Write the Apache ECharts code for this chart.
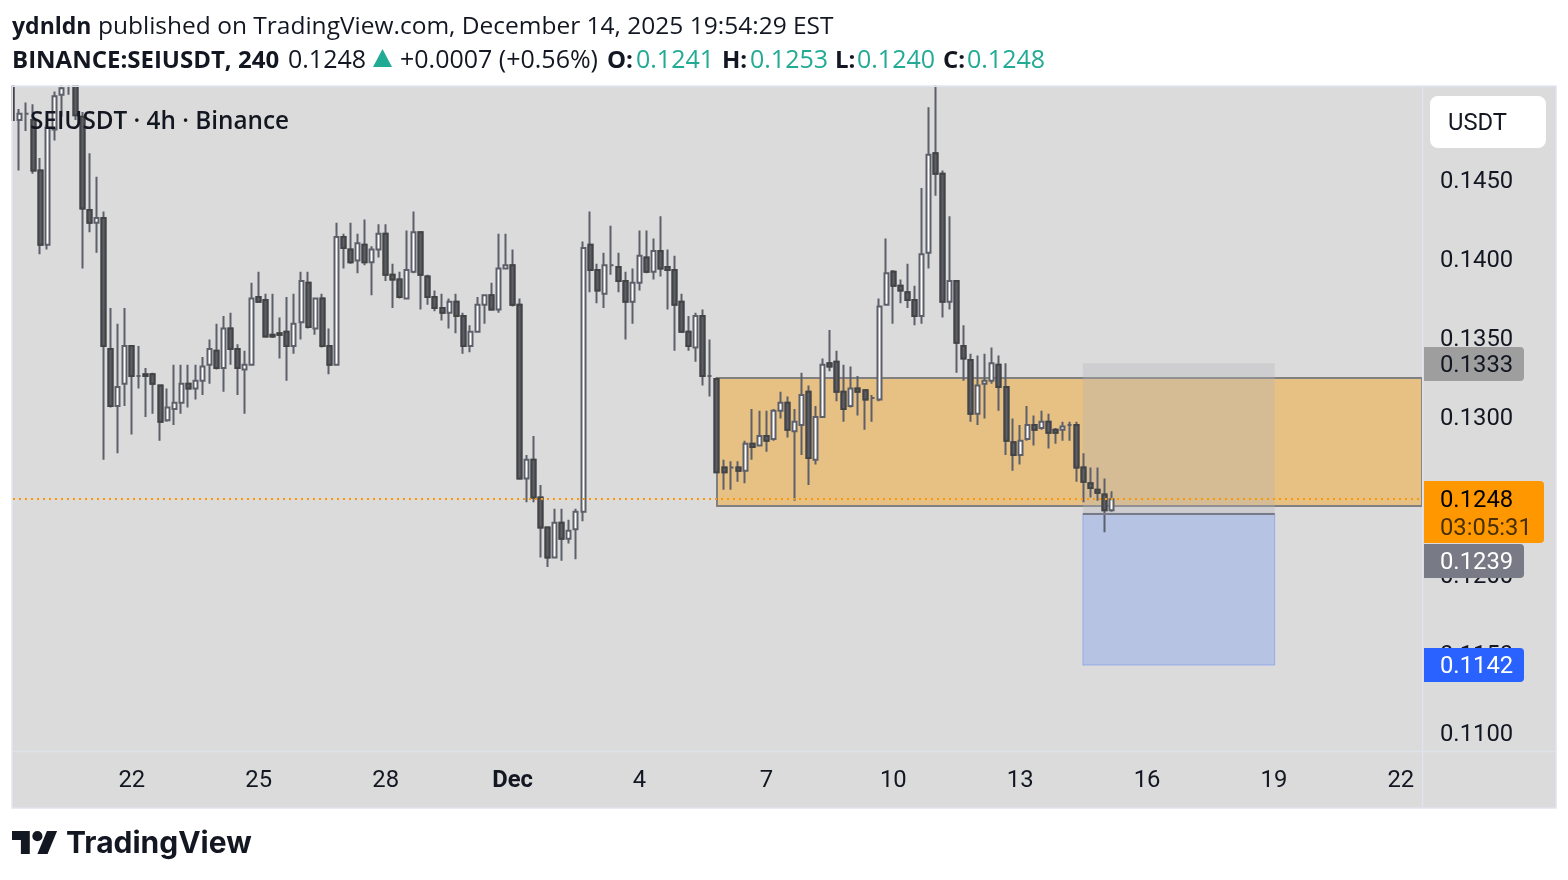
<!DOCTYPE html>
<html>
<head>
<meta charset="utf-8">
<title>SEIUSDT 4h</title>
<script src="https://cdn.jsdelivr.net/npm/echarts@6/dist/echarts.min.js"></script>
<style>
  html, body { margin: 0; padding: 0; background: #fff; }
  #chart { width: 1568px; height: 880px; }
</style>
</head>
<body>
<div id="chart"></div>
<script>
/* ------------------------------- Candle data ------------------------------ */
const opens = [
  0.1530,0.1488,0.1492,0.1488,0.1456,0.1409,0.1482,0.1504,0.1512,0.1520,0.1490,0.1431,0.1423,0.1426,0.1343,0.1307,0.1321,0.1345,0.1326,0.1327,
  0.1327,0.1320,0.1298,0.1305,0.1309,0.1321,0.1318,0.1323,0.1333,0.1342,0.1331,0.1356,0.1343,0.1330,0.1333,0.1376,0.1374,0.1352,0.1353,0.1354,
  0.1345,0.1360,0.1385,0.1356,0.1375,0.1345,0.1333,0.1414,0.1406,0.1399,0.1409,0.1398,0.1406,0.1416,0.1390,0.1387,0.1375,0.1392,0.1417,0.1389,
  0.1376,0.1369,0.1366,0.1373,0.1364,0.1345,0.1354,0.1371,0.1377,0.1368,0.1394,0.1396,0.1371,0.1261,0.1273,0.1249,0.1230,0.1211,0.1233,0.1223,
  0.1229,0.1240,0.1409,0.1393,0.1378,0.1396,0.1395,0.1386,0.1373,0.1385,0.1401,0.1392,0.1405,0.1395,0.1393,0.1373,0.1354,0.1344,0.1364,0.1326,
  0.1324,0.1268,0.1268,0.1268,0.1266,0.1283,0.1282,0.1288,0.1286,0.1304,0.1309,0.1291,0.1295,0.1316,0.1273,0.1300,0.1334,0.1335,0.1316,0.1307,
  0.1318,0.1317,0.1312,0.1311,0.1371,0.1392,0.1383,0.1379,0.1374,0.1364,0.1404,0.1467,0.1454,0.1373,0.1386,0.1345,0.1336,0.1302,0.1321,0.1323,
  0.1333,0.1319,0.1284,0.1276,0.1286,0.1295,0.1293,0.1297,0.1292,0.1292,0.1295,0.1295,0.1268,0.1258,0.1254,0.1251,0.1241
];
const closes = [
  0.1488,0.1492,0.1492,0.1456,0.1409,0.1483,0.1503,0.1508,0.1515,0.1491,0.1432,0.1423,0.1426,0.1345,0.1307,0.1319,0.1345,0.1326,0.1326,0.1326,
  0.1321,0.1297,0.1306,0.1309,0.1321,0.1318,0.1323,0.1332,0.1343,0.1331,0.1356,0.1343,0.1331,0.1333,0.1375,0.1373,0.1351,0.1351,0.1352,0.1345,
  0.1359,0.1386,0.1357,0.1375,0.1345,0.1333,0.1414,0.1407,0.1398,0.1410,0.1398,0.1406,0.1416,0.1390,0.1387,0.1376,0.1393,0.1417,0.1390,0.1376,
  0.1369,0.1366,0.1373,0.1364,0.1345,0.1354,0.1371,0.1377,0.1368,0.1394,0.1396,0.1371,0.1261,0.1273,0.1249,0.1230,0.1211,0.1233,0.1223,0.1228,
  0.1240,0.1407,0.1393,0.1380,0.1396,0.1396,0.1386,0.1373,0.1385,0.1402,0.1392,0.1405,0.1394,0.1393,0.1371,0.1354,0.1345,0.1364,0.1326,0.1326,
  0.1265,0.1265,0.1268,0.1266,0.1283,0.1281,0.1288,0.1285,0.1304,0.1309,0.1292,0.1297,0.1314,0.1274,0.1300,0.1333,0.1332,0.1316,0.1305,0.1318,
  0.1316,0.1311,0.1312,0.1370,0.1391,0.1383,0.1380,0.1374,0.1364,0.1403,0.1466,0.1454,0.1373,0.1386,0.1347,0.1337,0.1302,0.1320,0.1323,0.1334,
  0.1319,0.1285,0.1276,0.1285,0.1295,0.1292,0.1297,0.1290,0.1290,0.1294,0.1295,0.1268,0.1259,0.1255,0.1252,0.1241,0.1248
];
const highs = [
  0.1535,0.1495,0.1499,0.1498,0.1464,0.1485,0.1506,0.1515,0.1525,0.1530,0.1493,0.1467,0.1452,0.1430,0.1369,0.1359,0.1369,0.1345,0.1345,0.1331,
  0.1328,0.1320,0.1318,0.1333,0.1333,0.1333,0.1333,0.1338,0.1349,0.1359,0.1364,0.1366,0.1346,0.1342,0.1385,0.1392,0.1378,0.1378,0.1363,0.1376,
  0.1378,0.1392,0.1392,0.1375,0.1378,0.1356,0.1423,0.1416,0.1423,0.1416,0.1425,0.1408,0.1422,0.1422,0.1397,0.1392,0.1418,0.1430,0.1417,0.1390,
  0.1380,0.1378,0.1375,0.1378,0.1366,0.1358,0.1376,0.1377,0.1385,0.1416,0.1416,0.1406,0.1375,0.1276,0.1288,0.1257,0.1230,0.1242,0.1242,0.1235,
  0.1242,0.1411,0.1430,0.1397,0.1404,0.1421,0.1404,0.1392,0.1394,0.1418,0.1418,0.1413,0.1427,0.1406,0.1402,0.1378,0.1364,0.1366,0.1368,0.1349,
  0.1325,0.1273,0.1272,0.1272,0.1285,0.1305,0.1304,0.1304,0.1305,0.1316,0.1313,0.1305,0.1328,0.1320,0.1307,0.1337,0.1355,0.1342,0.1333,0.1332,
  0.1326,0.1317,0.1314,0.1375,0.1413,0.1393,0.1387,0.1397,0.1383,0.1445,0.1496,0.1510,0.1456,0.1427,0.1386,0.1358,0.1340,0.1339,0.1340,0.1344,
  0.1339,0.1334,0.1299,0.1295,0.1307,0.1301,0.1304,0.1302,0.1293,0.1297,0.1297,0.1297,0.1277,0.1268,0.1268,0.1261,0.1253
];
const lows = [
  0.1488,0.1456,0.1481,0.1454,0.1403,0.1406,0.1475,0.1490,0.1504,0.1488,0.1394,0.1417,0.1404,0.1273,0.1306,0.1277,0.1307,0.1289,0.1318,0.1300,
  0.1302,0.1285,0.1297,0.1295,0.1302,0.1306,0.1311,0.1314,0.1321,0.1330,0.1316,0.1333,0.1314,0.1302,0.1333,0.1373,0.1351,0.1350,0.1337,0.1323,
  0.1340,0.1349,0.1356,0.1352,0.1344,0.1327,0.1333,0.1394,0.1397,0.1391,0.1396,0.1377,0.1401,0.1386,0.1369,0.1375,0.1375,0.1391,0.1368,0.1371,
  0.1367,0.1361,0.1356,0.1353,0.1340,0.1341,0.1354,0.1359,0.1368,0.1366,0.1394,0.1370,0.1261,0.1246,0.1246,0.1211,0.1205,0.1211,0.1209,0.1220,
  0.1210,0.1234,0.1379,0.1372,0.1369,0.1390,0.1379,0.1349,0.1359,0.1380,0.1391,0.1387,0.1389,0.1368,0.1342,0.1354,0.1342,0.1335,0.1320,0.1313,
  0.1265,0.1254,0.1254,0.1259,0.1258,0.1273,0.1282,0.1278,0.1285,0.1299,0.1287,0.1247,0.1276,0.1257,0.1270,0.1300,0.1329,0.1310,0.1297,0.1306,
  0.1301,0.1292,0.1297,0.1310,0.1371,0.1359,0.1372,0.1369,0.1358,0.1359,0.1394,0.1440,0.1363,0.1368,0.1328,0.1323,0.1297,0.1295,0.1299,0.1321,
  0.1304,0.1276,0.1266,0.1270,0.1285,0.1282,0.1292,0.1280,0.1283,0.1285,0.1285,0.1259,0.1246,0.1249,0.1247,0.1227,0.1240
];

/* --------------------------------- Axes ---------------------------------- */
const dateTicks = [17, 35, 53, 71, 89, 107, 125, 143, 161, 179, 197];
const dateLabels = ['22', '25', '28', 'Dec', '4', '7', '10', '13', '16', '19', '22'];
const priceTicks = [0.11, 0.115, 0.12, 0.125, 0.13, 0.135, 0.14, 0.145];

/* ------------------------------- Drawn levels ----------------------------- */
const lastPrice = 0.1248;
const zoneTop = 0.13247;
const zoneBottom = 0.12437;
const zoneStart = 100;
const posStart = 151.9;
const posEnd = 179.1;
const stopPrice = 0.1334;
const entryPrice = 0.1239;
const targetPrice = 0.1143;

/* -------------------------------- Options --------------------------------- */
const INK = '#131722';
const TEAL = '#22ab94';
const LINE = '#e0e3eb';
const UI_FONT = '"Open Sans", "Noto Sans", sans-serif';
const AXIS_FONT = 'Roboto, sans-serif';
const AXIS_MIN = 0.142;
const AXIS_MAX = 200;

const candles = opens.map((o, i) => [i, o, closes[i], lows[i], highs[i]]);
// TradingView draws falling bodies with a darker edge than their wick
const fallingBodies = candles
  .filter(c => c[2] < c[1])
  .map(c => [c[0], c[1], c[2], c[2], c[1]]);

const text = (str, x, y, extra = {}) => ({
  type: 'text',
  z: 12,
  x,
  y: y + 2,
  style: {
    text: str,
    fill: INK,
    font: `25px ${UI_FONT}`,
    textVerticalAlign: 'middle',
    ...extra
  }
});

const priceTag = (str, y, width, fill, color) => ([
  {
    type: 'rect',
    z: 11,
    shape: { x: 1424, y: y - 17, width, height: 34, r: [0, 4, 4, 0] },
    style: { fill }
  },
  text(str, 1440, y, { fill: color, font: `23.8px ${AXIS_FONT}` })
]);

const logoPoly = points => ({
  type: 'polygon',
  z: 12,
  shape: { points: points.map(([x, y]) => [12 + x * 1.27, 826 + y * 1.27]) },
  style: { fill: INK }
});

const BOLD = `700 24px ${UI_FONT}`;

const graphics = [
  // panel behind the plot and the scales
  { type: 'rect', z: -1, shape: { x: 12, y: 86, width: 1544, height: 722 }, style: { fill: '#dbdbdb', stroke: LINE, lineWidth: 1.5 } },

  // candlesticks are not clipped to the grid, so mask what sticks out of it
  { type: 'rect', z: 10, shape: { x: 0, y: 0, width: 1568, height: 85.5 }, style: { fill: '#fff' } },
  { type: 'rect', z: 10, shape: { x: 0, y: 0, width: 11.5, height: 880 }, style: { fill: '#fff' } },
  { type: 'rect', z: 10, shape: { x: 11.5, y: 85.5, width: 1.5, height: 723 }, style: { fill: LINE } },
  { type: 'line', z: 10, shape: { x1: 12, y1: 86.2, x2: 1556, y2: 86.2 }, style: { stroke: LINE, lineWidth: 1.5 } },
  { type: 'line', z: 10, shape: { x1: 1422.7, y1: 87, x2: 1422.7, y2: 807 }, style: { stroke: LINE, lineWidth: 1.5 } },
  { type: 'line', z: 10, shape: { x1: 12, y1: 751.5, x2: 1556, y2: 751.5 }, style: { stroke: LINE, lineWidth: 1.5 } },

  // header
  text('ydnldn', 12, 25, { font: `700 23px ${UI_FONT}` }),
  text('published on TradingView.com, December 14, 2025 19:54:29 EST', 98, 25, { font: `24.5px ${UI_FONT}` }),
  text('BINANCE:SEIUSDT, 240', 12, 59, { font: BOLD }),
  text('0.1248', 288, 59),
  { type: 'polygon', z: 12, shape: { points: [[382.5, 49], [392, 67], [373, 67]] }, style: { fill: TEAL } },
  text('+0.0007 (+0.56%)', 400, 59),
  text('O:', 607, 59, { font: BOLD }),
  text('0.1241', 636, 59, { fill: TEAL }),
  text('H:', 722, 59, { font: BOLD }),
  text('0.1253', 750, 59, { fill: TEAL }),
  text('L:', 835, 59, { font: BOLD }),
  text('0.1240', 857, 59, { fill: TEAL }),
  text('C:', 943, 59, { font: BOLD }),
  text('0.1248', 967, 59, { fill: TEAL }),

  // symbol title on the plot
  text('SEIUSDT · 4h · Binance', 30, 120, { font: `600 24.3px ${UI_FONT}` }),

  // currency button
  { type: 'rect', z: 11, shape: { x: 1430, y: 96, width: 116, height: 52, r: 8 }, style: { fill: '#fff' } },
  text('USDT', 1448, 122, { font: `23.8px ${AXIS_FONT}` }),

  // price tags on the scale
  ...priceTag('0.1333', 364, 100, '#9e9e9e', INK),
  ...priceTag('0.1239', 561, 100, '#787b86', '#fff'),
  ...priceTag('0.1142', 665, 100, '#2962ff', '#fff'),
  { type: 'rect', z: 11, shape: { x: 1424, y: 481, width: 120, height: 62, r: [0, 4, 4, 0] }, style: { fill: '#ff9800' } },
  text('0.1248', 1440, 499, { fill: '#000', font: `23.8px ${AXIS_FONT}` }),
  text('03:05:31', 1440, 527, { fill: '#4a3000', font: `23.8px ${AXIS_FONT}` }),

  // logo
  logoPoly([[14, 22], [7, 22], [7, 11], [0, 11], [0, 4], [14, 4]]),
  logoPoly([[28, 22], [20, 22], [27.5, 4], [35.5, 4]]),
  { type: 'circle', z: 12, shape: { cx: 12 + 20 * 1.27, cy: 826 + 8 * 1.27, r: 4 * 1.27 }, style: { fill: INK } },
  text('TradingView', 66, 842, { font: '700 30px Inter, sans-serif' })
];

const option = {
  animation: false,
  backgroundColor: '#fff',
  grid: { left: 13, top: 87, width: 1409, height: 664 },
  xAxis: {
    type: 'value',
    min: AXIS_MIN,
    max: AXIS_MAX,
    splitLine: { show: false },
    axisLine: { show: false },
    axisTick: { show: false },
    axisLabel: {
      customValues: dateTicks,
      margin: 18,
      color: INK,
      fontFamily: AXIS_FONT,
      fontSize: 23.8,
      formatter: v => {
        const label = dateLabels[dateTicks.indexOf(v)];
        return label === 'Dec' ? `{month|${label}}` : label;
      },
      rich: { month: { fontFamily: AXIS_FONT, fontSize: 23.8, fontWeight: 700, color: INK } }
    }
  },
  yAxis: {
    type: 'value',
    position: 'right',
    min: 0.108861,
    max: 0.150886,
    scale: true,
    splitLine: { show: false },
    axisLine: { show: false },
    axisTick: { show: false },
    axisLabel: {
      customValues: priceTicks,
      margin: 18,
      verticalAlign: 'top',
      lineHeight: 4,
      color: INK,
      fontFamily: AXIS_FONT,
      fontSize: 23.8,
      formatter: v => v.toFixed(4)
    }
  },
  series: [
    {
      type: 'candlestick',
      name: 'SEIUSDT',
      data: candles,
      encode: { x: 0, y: [1, 2, 3, 4] },
      barWidth: 4.5,
      itemStyle: {
        color: '#fff',
        color0: '#5d606b',
        borderColor: '#5d606b',
        borderColor0: '#5d606b',
        borderColorDoji: '#5d606b',
        borderWidth: 2
      },
      markArea: {
        silent: true,
        data: [
          [
            { xAxis: zoneStart, yAxis: zoneTop, itemStyle: { color: '#e7c083', borderColor: '#808080', borderWidth: 2 } },
            { xAxis: AXIS_MAX + 0.2, yAxis: zoneBottom }
          ],
          [
            { xAxis: posStart, yAxis: stopPrice, itemStyle: { color: 'rgba(180, 180, 185, 0.33)' } },
            { xAxis: posEnd, yAxis: entryPrice }
          ],
          [
            { xAxis: posStart, yAxis: entryPrice, itemStyle: { color: 'rgba(41, 98, 255, 0.2)', borderColor: 'rgba(41, 98, 255, 0.3)', borderWidth: 1 } },
            { xAxis: posEnd, yAxis: targetPrice }
          ]
        ]
      }
    },
    {
      type: 'candlestick',
      name: 'bodies',
      data: fallingBodies,
      encode: { x: 0, y: [1, 2, 3, 4] },
      barWidth: 4.5,
      itemStyle: {
        color: '#fff',
        color0: '#5d606b',
        borderColor: '#434343',
        borderColor0: '#434343',
        borderWidth: 2
      },
      markLine: {
        silent: true,
        symbol: 'none',
        precision: 4,
        label: { show: false },
        data: [
          { yAxis: lastPrice, lineStyle: { color: '#ff9800', width: 1.8, type: [2, 4] } },
          [
            { xAxis: posStart, yAxis: entryPrice, lineStyle: { color: '#787b86', width: 2, type: 'solid' } },
            { xAxis: posEnd, yAxis: entryPrice }
          ]
        ]
      }
    }
  ],
  graphic: { elements: graphics }
};

const chart = echarts.init(document.getElementById('chart'), null, { renderer: 'canvas' });
chart.setOption(option);
</script>
</body>
</html>
